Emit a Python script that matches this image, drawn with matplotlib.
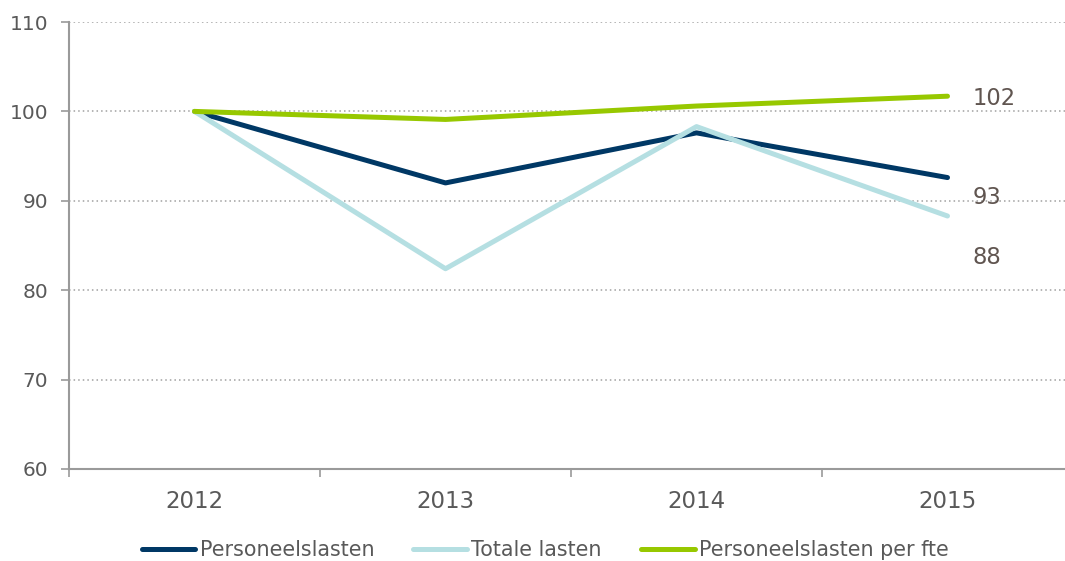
import numpy as np
import matplotlib.pyplot as plt

# data
years = ['2012', '2013', '2014', '2015']
personeelslasten = [100, 92.0, 97.6, 92.6]
totale_lasten = [100, 82.4, 98.3, 88.3]
per_fte = [100, 99.1, 100.6, 101.7]
end_labels = ['93', '88', '102']

navy = '#003865'
lightblue = '#b5dfe2'
green = '#97c800'
axis_grey = '#9a9a9a'
text_grey = '#595959'
label_brown = '#605550'

fig = plt.figure(figsize=(10.65, 5.61), dpi=100)
ax = fig.add_axes([69 / 1065, 1 - 469 / 561, 1 - 69 / 1065, (469 - 22) / 561])

x = np.arange(len(years))
series = [personeelslasten, totale_lasten, per_fte]
colors = [navy, lightblue, green]
names = ['Personeelslasten', 'Totale lasten', 'Personeelslasten per fte']
# light blue first so the navy line sits on top, green on top of all
order = [1, 0, 2]
for i in order:
    ax.plot(x, series[i], color=colors[i], lw=3.6, solid_capstyle='round',
            solid_joinstyle='round', label=names[i], zorder=3 + i)

# end labels
offsets = [-14, -30, -2]
for i in range(3):
    ax.annotate(end_labels[i], xy=(x[-1], series[i][-1]), xytext=(18, offsets[i]),
                textcoords='offset points', ha='left', va='center',
                fontsize=16.3, color=label_brown)

ax.set_ylim(60, 110)
ax.set_yticks(np.arange(60, 111, 10))
ax.set_xlim(-0.5, 3.5 - 8 / 251)

# category boundaries as major ticks, labels on minor ticks
ax.set_xticks(np.arange(-0.5, 3.0, 1.0))
ax.set_xticklabels([])
ax.set_xticks(x, minor=True)
ax.set_xticklabels(years, minor=True)
ax.tick_params(axis='x', which='major', length=6, width=1.2, color=axis_grey, direction='out')
ax.tick_params(axis='x', which='minor', length=0, pad=15, labelsize=16.5, labelcolor=text_grey)
ax.tick_params(axis='y', length=6, width=1.2, color=axis_grey, pad=9,
               labelsize=14.5, labelcolor=text_grey)

for s in ['top', 'right']:
    ax.spines[s].set_visible(False)
for s in ['left', 'bottom']:
    ax.spines[s].set_color(axis_grey)
    ax.spines[s].set_linewidth(1.5)

for v in [70, 80, 90, 100, 110]:
    ax.axhline(v, color='#a0a0a0', lw=1.1, ls=(0, (1, 2)), zorder=1)

handles, labels = ax.get_legend_handles_labels()
hmap = dict(zip(labels, handles))
leg = fig.legend([hmap[n] for n in names], names, loc='lower center',
                 bbox_to_anchor=(0.512, -0.032), ncol=3, frameon=False,
                 fontsize=14.9, handlelength=2.6, handletextpad=0.2,
                 columnspacing=1.9, labelcolor=text_grey)

fig.savefig('out.png', dpi=100)
